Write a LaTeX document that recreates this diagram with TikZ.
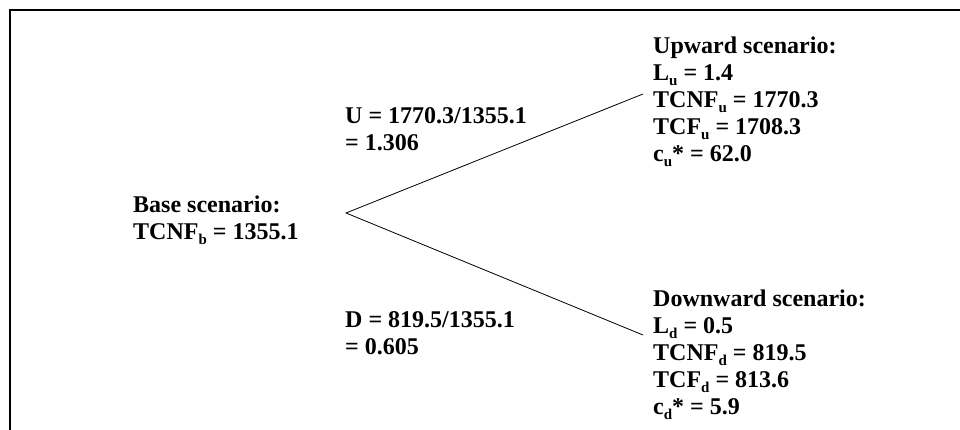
\documentclass[tikz,border=0pt]{standalone}
\usepackage{fontspec}
\setmainfont{Liberation Serif}
\usetikzlibrary{positioning}
\newcommand{\lowsub}[1]{\raisebox{-0.18em}{\fontsize{15}{15}\selectfont #1}}
\tikzset{
    every node/.append style={
        inner sep=0pt,
        align=left,
        anchor=north west,
        font=\fontsize{24}{27}\selectfont\bfseries
    },
    branch/.style={
        draw,
        line width=0.8pt
    },
    frame/.style={
        draw,
        line width=2.5pt
    }
}

\begin{document}
\begin{tikzpicture}[x=1pt,y=-1pt]
    \useasboundingbox (0,0) rectangle (960,430);
    \draw[frame] (10,430) -- (10,10) -- (960,10);

    \node (base) at (133,196) {Base scenario:\\TCNF\lowsub{b} = 1355.1};
    \node (ratioup) at (345,107) {U = 1770.3/1355.1\\= 1.306};
    \node (ratiodown) at (345,311) {D = 819.5/1355.1\\= 0.605};
    \node (up) at (653,37) {Upward scenario:\\L\lowsub{u} = 1.4\\TCNF\lowsub{u} = 1770.3\\TCF\lowsub{u} = 1708.3\\c\lowsub{u}* = 62.0};
    \node (down) at (653,290) {Downward scenario:\\L\lowsub{d} = 0.5\\TCNF\lowsub{d} = 819.5\\TCF\lowsub{d} = 813.6\\c\lowsub{d}* = 5.9};

    \coordinate (fork) at (346,213);
    \coordinate (upend) at (643,94);
    \coordinate (downend) at (643,335);
    \draw[branch] (upend) -- (fork) -- (downend);
\end{tikzpicture}
\end{document}
